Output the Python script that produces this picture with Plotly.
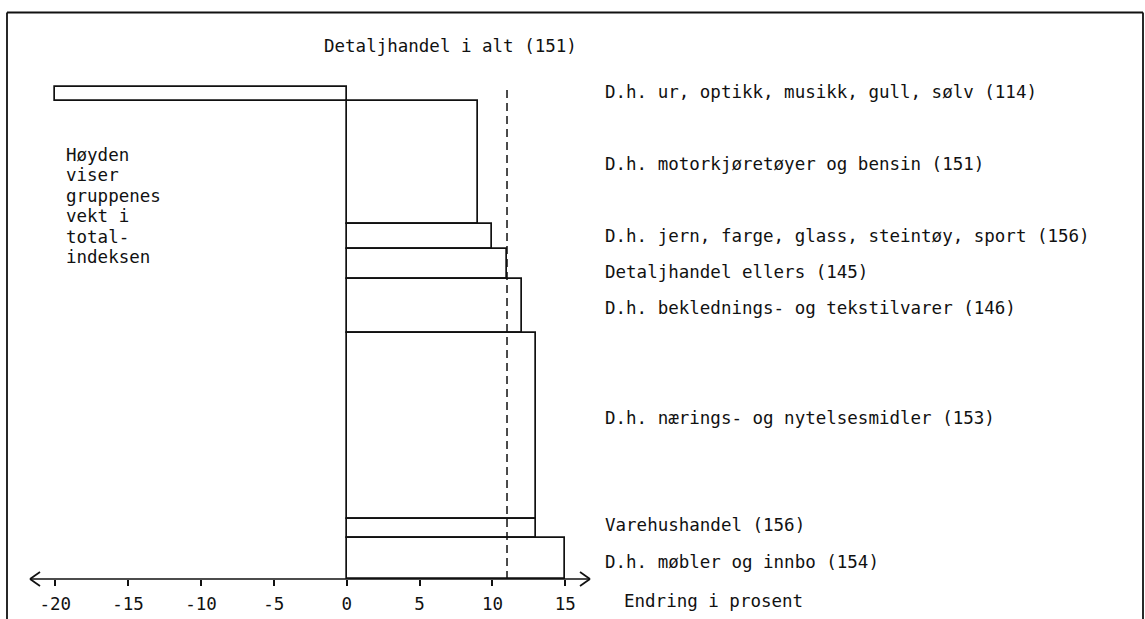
import plotly.graph_objects as go

# ---- data (top to bottom) ----
categories = [
    "D.h. ur, optikk, musikk, gull, sølv (114)",
    "D.h. motorkjøretøyer og bensin (151)",
    "D.h. jern, farge, glass, steintøy, sport (156)",
    "Detaljhandel ellers (145)",
    "D.h. beklednings- og tekstilvarer (146)",
    "D.h. nærings- og nytelsesmidler (153)",
    "Varehushandel (156)",
    "D.h. møbler og innbo (154)",
]
change_pct = [-20, 9, 10, 11, 12, 13, 13, 15]
weights = [2.7, 25.1, 5.0, 6.2, 11.0, 37.8, 3.8, 8.4]
total_label = "Detaljhandel i alt (151)"
total_change = 11
tick_vals = [-20, -15, -10, -5, 0, 5, 10, 15]
tick_text = ["-20", "-15", "-10", "-5", "0", "5", "10", "15"]
note_lines = ["Høyden", "viser", "gruppenes", "vekt i", "total-", "indeksen"]
axis_title = "Endring i prosent"

# ---- geometry ----
W, H = 1145, 619
PL, PR, PT, PB = 7, 1143, 13, 579        # plot area in pixels
X0PX, XSCALE = 346.7, 14.574             # pixel of x=0, px per unit
YSCALE = 4.917                           # px per weight unit

xmin = (PL - X0PX) / XSCALE
xmax = (PR - X0PX) / XSCALE
ymax = (PB - PT) / YSCALE

def dx(px):
    return (px - X0PX) / XSCALE

def px2paper(px):
    return (px - PL) / (PR - PL)

def py2paper(py):
    return (PB - py) / (PB - PT)

# bar centres from cumulative weights, bottom up
n = len(weights)
centers = [0.0] * n
base = 0.0
for i in range(n - 1, -1, -1):
    centers[i] = base + weights[i] / 2
    base += weights[i]
top_of_stack = base

FONT = "DejaVu Sans Mono"
FS = 17.5
INK = "#111111"

fig = go.Figure()
fig.add_trace(go.Bar(
    x=change_pct, y=centers, width=weights, base=0, orientation="h",
    marker=dict(color="white", line=dict(color=INK, width=1.7)),
    hoverinfo="skip", showlegend=False,
))

shapes = []
# dashed total line
shapes.append(dict(type="line", xref="x", yref="y", x0=total_change, x1=total_change,
                   y0=0, y1=top_of_stack + 0.3, line=dict(color=INK, width=1.5, dash="8px,5px")))
# x axis line with open arrows at both ends (paper refs so nothing is clipped)
axl, axr, axy = 30, 590, PB
shapes.append(dict(type="line", xref="paper", yref="paper",
                   x0=px2paper(axl), x1=px2paper(axr), y0=py2paper(axy), y1=py2paper(axy),
                   line=dict(color=INK, width=1.7)))
for tip, sgn in ((axl, 1), (axr, -1)):
    for s in (1, -1):
        shapes.append(dict(type="line", xref="paper", yref="paper",
                           x0=px2paper(tip), y0=py2paper(axy),
                           x1=px2paper(tip + sgn * 10), y1=py2paper(axy + s * 7),
                           line=dict(color=INK, width=1.7)))
# frame (open at the bottom)
fb = py2paper(H + 5)
ft = py2paper(12.5)
shapes.append(dict(type="line", xref="paper", yref="paper", x0=0, x1=1, y0=ft, y1=ft,
                   line=dict(color=INK, width=1.8)))
shapes.append(dict(type="line", xref="paper", yref="paper", x0=0, x1=0, y0=fb, y1=ft,
                   line=dict(color=INK, width=1.8)))
shapes.append(dict(type="line", xref="paper", yref="paper", x0=1, x1=1, y0=fb, y1=ft,
                   line=dict(color=INK, width=1.8)))

annotations = []
label_x = dx(603)
label_shift = [2, -2, 0, -8, -2, 8, 3, -4]
for cat, c, sh in zip(categories, centers, label_shift):
    annotations.append(dict(x=label_x, y=c, xref="x", yref="y", text=cat, showarrow=False,
                            xanchor="left", yanchor="middle", yshift=sh,
                            font=dict(family=FONT, size=FS, color=INK)))
annotations.append(dict(x=dx(322), y=py2paper(46), xref="x", yref="paper", text=total_label,
                        showarrow=False, xanchor="left", yanchor="middle",
                        font=dict(family=FONT, size=FS, color=INK)))
annotations.append(dict(x=dx(622), y=py2paper(601), xref="x", yref="paper", text=axis_title,
                        showarrow=False, xanchor="left", yanchor="middle",
                        font=dict(family=FONT, size=FS, color=INK)))
for k, line in enumerate(note_lines):
    annotations.append(dict(x=dx(64), y=py2paper(155 + 20.4 * k), xref="x", yref="paper",
                            text=line, showarrow=False, xanchor="left", yanchor="middle",
                            font=dict(family=FONT, size=FS, color=INK)))

fig.update_layout(
    width=W, height=H,
    margin=dict(l=PL, r=W - PR, t=PT, b=H - PB, pad=0),
    paper_bgcolor="white", plot_bgcolor="white",
    xaxis=dict(range=[xmin, xmax], tickvals=tick_vals, ticktext=tick_text,
               showgrid=False, zeroline=False, showline=False,
               ticks="outside", ticklen=6, tickwidth=1.5, tickcolor=INK,
               ticklabelstandoff=3,
               tickfont=dict(family=FONT, size=FS, color=INK), fixedrange=True),
    yaxis=dict(range=[0, ymax], visible=False, fixedrange=True),
    shapes=shapes, annotations=annotations, bargap=0,
)

fig.write_html("out.html", config={"displayModeBar": False},
               post_script="document.body.style.margin='0';document.body.style.overflow='hidden';")
